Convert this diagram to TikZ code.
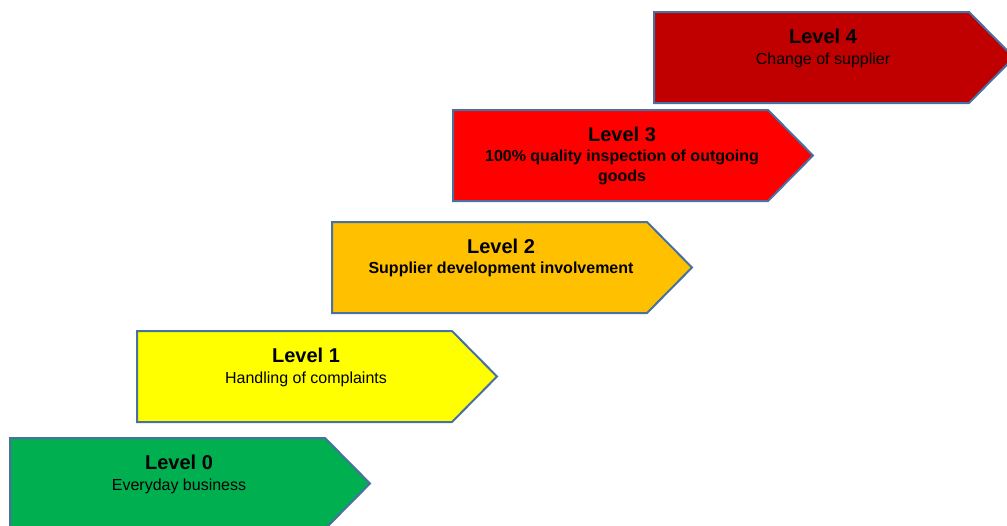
\documentclass[tikz,border=0pt]{standalone}
\usepackage{fontspec}
\setmainfont{Liberation Sans}
\usepackage{tikz}
\definecolor{lvlgreen}{RGB}{0, 176, 80}
\definecolor{lvlyellow}{RGB}{255, 255, 0}
\definecolor{lvlorange}{RGB}{255, 192, 0}
\definecolor{lvlred}{RGB}{255, 0, 0}
\definecolor{lvldarkred}{RGB}{192, 0, 0}
\definecolor{lvlborder}{RGB}{72, 112, 160}
\tikzset{
    levelarrow/.style={draw=lvlborder, line width=2pt, line join=miter},
    leveltitle/.style={font=\fontsize{20}{24}\selectfont\bfseries, inner sep=0pt},
    levelsub/.style={font=\fontsize{16}{20}\selectfont, inner sep=0pt, align=center}
}

\begin{document}
\begin{tikzpicture}[x=1pt, y=-1pt]
    \useasboundingbox (0,0) rectangle (1007,525);
    \clip (0,0) rectangle (1007,525);

    % Staircase of level arrows: left, top, colour, name
    \foreach \lx/\ly/\col/\nm in {10/438/lvlgreen/lvlzero, 137/331/lvlyellow/lvlone,
                                   332/222/lvlorange/lvltwo, 453/110/lvlred/lvlthree,
                                   654/12/lvldarkred/lvlfour} {
        \draw[levelarrow, fill=\col] (\lx,\ly) -- ++(315,0) -- ++(45,45.5)
            -- ++(-45,45.5) -- ++(-315,0) -- cycle;
        \coordinate (\nm) at (\lx+169,\ly);
    }

    % Level titles
    \node[leveltitle] (tzero)  at ([yshift=-24pt]lvlzero)  {Level 0};
    \node[leveltitle] (tone)   at ([yshift=-24pt]lvlone)   {Level 1};
    \node[leveltitle] (ttwo)   at ([yshift=-24pt]lvltwo)   {Level 2};
    \node[leveltitle] (tthree) at ([yshift=-24pt]lvlthree) {Level 3};
    \node[leveltitle] (tfour)  at ([yshift=-24pt]lvlfour)  {Level 4};

    % Level descriptions
    \node[levelsub] (szero) at ([yshift=-48pt]lvlzero) {Everyday business};
    \node[levelsub] (sone)  at ([yshift=-48pt]lvlone)  {Handling of complaints};
    \node[levelsub, font=\fontsize{16}{20}\selectfont\bfseries] (stwo)
        at ([yshift=-47pt]lvltwo) {Supplier development involvement};
    \node[levelsub, font=\fontsize{16}{20}\selectfont\bfseries] (sthree)
        at ([yshift=-57pt]lvlthree) {100\% quality inspection of outgoing\\goods};
    \node[levelsub] (sfour) at ([yshift=-48pt]lvlfour) {Change of supplier};
\end{tikzpicture}
\end{document}
